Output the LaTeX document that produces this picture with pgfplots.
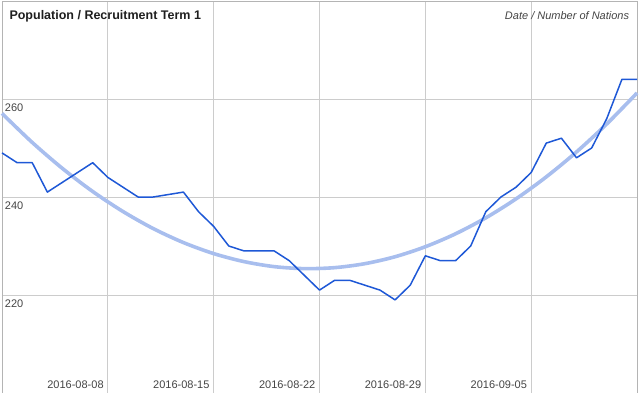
\documentclass[border=0pt]{standalone}
\usepackage{pgfplots}
\pgfplotsset{compat=1.18}
\usepackage{fontspec}
\setmainfont{Liberation Sans}
\definecolor{gridgray}{HTML}{CCCCCC}
\definecolor{boxgray}{HTML}{B4B4B4}
\definecolor{labgray}{HTML}{444444}
\definecolor{lineblue}{RGB}{30,88,214}
\definecolor{trendblue}{HTML}{A8BEEE}
\begin{document}
\begin{tikzpicture}
\useasboundingbox (0,0) rectangle (639pt,393pt);
\begin{axis}[
  at={(2pt,0pt)}, anchor=south west,
  width=635pt, height=392pt, scale only axis,
  xmin=0, xmax=42, ymin=200, ymax=280,
  xtick={7,14,21,28,35},
  xticklabels={2016-08-08,2016-08-15,2016-08-22,2016-08-29,2016-09-05},
  ytick={220,240,260},
  major tick length=0pt,
  grid=major,
  major grid style={color=gridgray, line width=0.8pt},
  axis line style={color=boxgray, line width=0.8pt},
  /pgf/number format/assume math mode=true,
  ticklabel style={font=\fontsize{11}{13}\selectfont, text=labgray, inner sep=0pt},
  xticklabel style={anchor=south east, xshift=-4pt, yshift=4pt},
  yticklabel style={anchor=north west, xshift=2.7pt, yshift=-5pt},
  clip=false,
]
\addplot[trendblue, line width=3.6pt, smooth] coordinates {
(0,257.05) (2,251.13) (4,245.82) (6,241.12) (8,237.04) (10,233.56) (12,230.70)
(14,228.45) (16,226.82) (18,225.79) (20,225.38) (22,225.58) (24,226.39) (26,227.81)
(28,229.85) (30,232.49) (32,235.75) (34,239.62) (36,244.11) (38,249.20) (40,254.91) (42,261.23)
};
\addplot[lineblue, line width=1.5pt, line join=round] coordinates {
(0,249) (1,247) (2,247) (3,241) (4,243) (5,245) (6,247) (7,244) (8,242) (9,240)
(10,240) (11,240.5) (12,241) (13,237) (14,234) (15,230) (16,229) (17,229) (18,229)
(19,227) (20,224) (21,221) (22,223) (23,223) (24,222) (25,221) (26,219) (27,222)
(28,228) (29,227) (30,227) (31,230) (32,237) (33,240) (34,242) (35,245) (36,251)
(37,252) (38,248) (39,250) (40,256) (41,264) (42,264)
};
\end{axis}
\node[anchor=base west, inner sep=0pt, text=black!88] at (9.3pt,373.5pt)
  {\fontsize{12.5}{14}\selectfont\bfseries Population / Recruitment Term 1};
\node[anchor=base east, inner sep=0pt, text=labgray] at (629.3pt,373.5pt)
  {\fontsize{11}{13}\selectfont\itshape Date / Number of Nations};
\end{tikzpicture}
\end{document}
